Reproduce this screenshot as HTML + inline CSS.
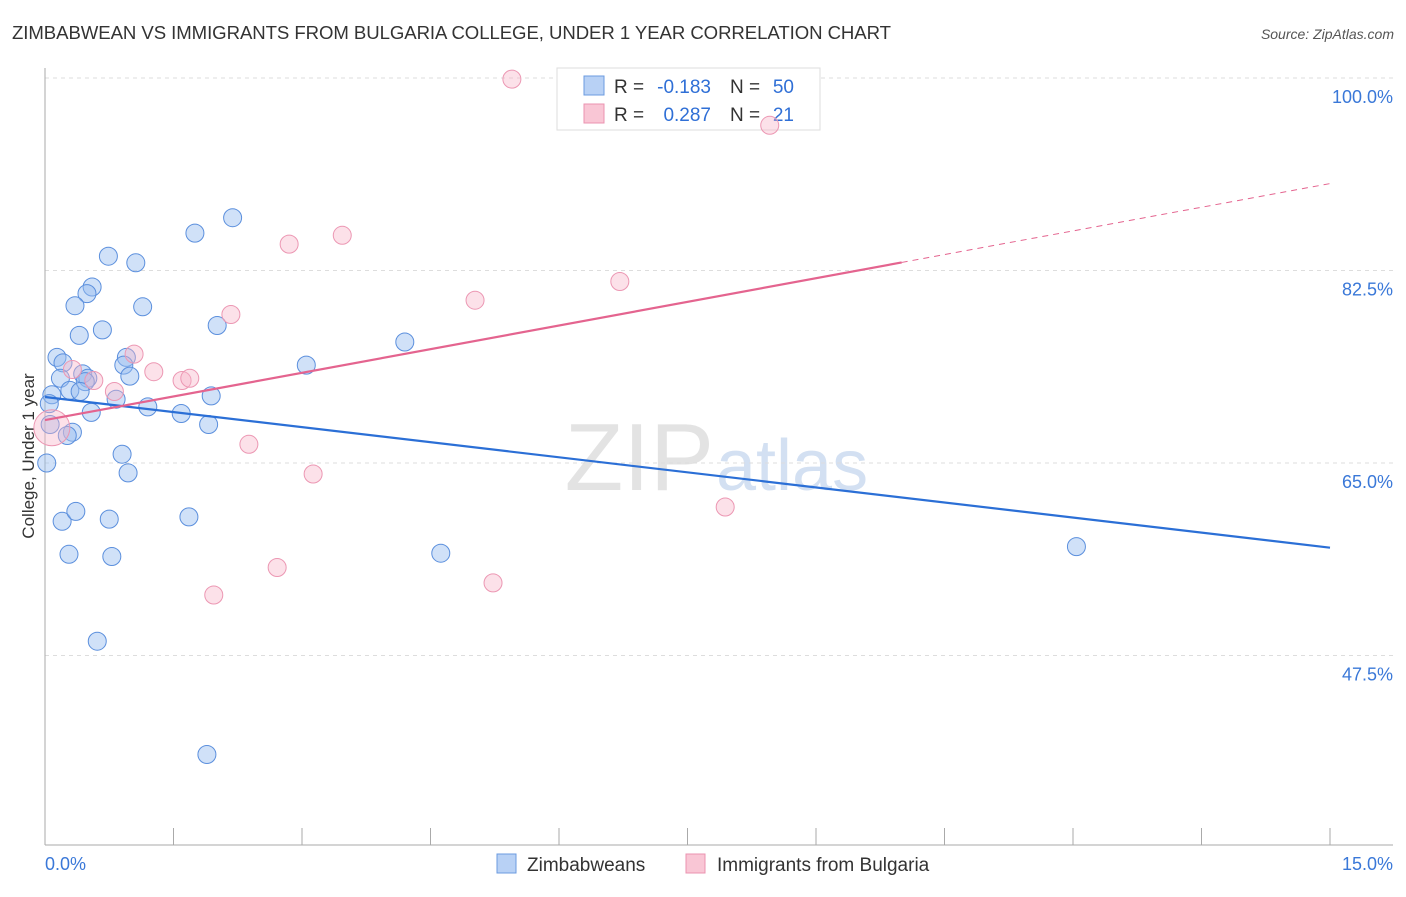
<!DOCTYPE html>
<html><head><meta charset="utf-8"><style>
body{margin:0;background:#fff;font-family:"Liberation Sans",sans-serif;}
svg text{font-family:"Liberation Sans",sans-serif;}
</style></head><body>
<svg id="chart" width="1406" height="892" viewBox="0 0 1406 892" xmlns="http://www.w3.org/2000/svg">
<text x="12" y="39" font-size="18.6" fill="#333" textLength="879">ZIMBABWEAN VS IMMIGRANTS FROM BULGARIA COLLEGE, UNDER 1 YEAR CORRELATION CHART</text>
<text x="1394" y="39" font-size="14" fill="#555" font-style="italic" text-anchor="end">Source: ZipAtlas.com</text>
<text x="714" y="490" font-size="96" fill="#ddd" text-anchor="end" font-family="Liberation Serif" opacity="0.8">ZIP</text>
<text x="716" y="490" font-size="72" fill="#c9d9ef" opacity="0.8">atlas</text>
<g id="grid"></g><g id="axes"></g>
<text transform="translate(34,456) rotate(-90)" font-size="17" fill="#333" text-anchor="middle">College, Under 1 year</text>
<g>
<rect x="557" y="68" width="263" height="62" fill="#fff" stroke="#ddd"/>
<rect x="584" y="76" width="20" height="19" fill="#b8d1f5" stroke="#6b9be0"/>
<rect x="584" y="104" width="20" height="19" fill="#f9c6d5" stroke="#eb93b0"/>
<text x="614" y="93" font-size="19" fill="#333">R =</text>
<text x="711" y="93" font-size="19" fill="#2f6fd6" text-anchor="end">-0.183</text>
<text x="730" y="93" font-size="19" fill="#333">N =</text>
<text x="794" y="93" font-size="19" fill="#2f6fd6" text-anchor="end">50</text>
<text x="614" y="121" font-size="19" fill="#333">R =</text>
<text x="711" y="121" font-size="19" fill="#2f6fd6" text-anchor="end">0.287</text>
<text x="730" y="121" font-size="19" fill="#333">N =</text>
<text x="794" y="121" font-size="19" fill="#2f6fd6" text-anchor="end">21</text>
</g>
<g id="marks"></g>
<g>
<rect x="497" y="854" width="19" height="19" fill="#b8d1f5" stroke="#6b9be0"/>
<text x="527" y="871" font-size="19" fill="#333">Zimbabweans</text>
<rect x="686" y="854" width="19" height="19" fill="#f9c6d5" stroke="#eb93b0"/>
<text x="717" y="871" font-size="19" fill="#333">Immigrants from Bulgaria</text>
</g>
</svg>
<script>
const blueX=[0.74,1.06,0.55,0.49,0.35,1.14,0.67,0.40,2.01,1.75,2.19,0.14,0.21,0.95,0.92,3.05,4.20,0.18,0.44,0.50,0.47,0.99,0.29,0.41,0.08,0.05,0.83,1.20,0.54,1.59,1.94,1.91,0.32,0.26,0.06,0.02,0.90,0.97,0.20,0.36,0.75,1.68,0.28,0.78,4.62,0.61,1.89,12.04];
const blueY=[83.8,83.2,81.0,80.4,79.3,79.2,77.1,76.6,77.5,85.9,87.3,74.6,74.1,74.6,73.9,73.9,76.0,72.7,73.1,72.7,72.4,72.9,71.6,71.5,71.2,70.4,70.8,70.1,69.6,69.5,71.1,68.5,67.8,67.5,68.5,65.0,65.8,64.1,59.7,60.6,59.9,60.1,56.7,56.5,56.8,48.8,38.5,57.4];
const pinkX=[5.45,8.46,2.85,3.47,5.02,6.71,2.17,1.04,1.27,1.60,1.69,0.57,0.81,0.32,2.38,3.13,7.94,2.71,5.23,1.97,0.08];
const pinkY=[99.9,95.7,84.9,85.7,79.8,81.5,78.5,74.9,73.3,72.5,72.7,72.5,71.5,73.5,66.7,64.0,61.0,55.5,54.1,53.0,68.2];
const blueTrend=[71.0,57.3];
const pinkTrend=[68.9,90.4];
const yTicks=[100,82.5,65,47.5];
const yTickLabels=["100.0%","82.5%","65.0%","47.5%"];
const xTickLabels=["0.0%","15.0%"];
const NS="http://www.w3.org/2000/svg";
const X0=45,X1=1330,YT=78,PY=11;
const xs=v=>X0+(v/15)*(X1-X0);
const ys=v=>YT+(100-v)*PY;
function mk(tag,attrs,parent){const e=document.createElementNS(NS,tag);for(const k in attrs)e.setAttribute(k,attrs[k]);document.getElementById(parent).appendChild(e);return e;}
yTicks.forEach((t,i)=>{
 const l=mk('line',{x1:X0,x2:1393,y1:ys(t),y2:ys(t),stroke:'#ddd','stroke-dasharray':'4,4'},'grid');
 
 
 const tx=mk('text',{x:1393,y:ys(t)+25,'font-size':18,fill:'#3a78d8','text-anchor':'end'},'grid');
 tx.textContent=yTickLabels[i];
 
 
});
const ax=mk('line',{x1:X0,x2:X0,y1:68,y2:845,stroke:'#aaa'},'axes');


const bx=mk('line',{x1:X0,x2:1393,y1:845,y2:845,stroke:'#aaa'},'axes');


for(let i=0;i<=10;i++){const v=i*1.5;const t=mk('line',{x1:xs(v),x2:xs(v),y1:828,y2:845,stroke:'#aaa'},'axes');
 
 }
[[0,0],[15,1]].forEach(([v,i])=>{const t=mk('text',{x:xs(v)+(i?63:0),y:870,'font-size':18,fill:'#3a78d8','text-anchor':i?'end':'start'},'axes');t.textContent=xTickLabels[i];
 
 });
blueX.forEach((x,i)=>{const c=mk('circle',{cx:xs(x),cy:ys(blueY[i]),r:9,fill:'rgba(150,188,240,0.45)',stroke:'#5b8fdd','stroke-width':1},'marks');
 
 });
pinkX.forEach((x,i)=>{const c=mk('circle',{cx:xs(x),cy:ys(pinkY[i]),r:i==20?18:9,fill:'rgba(248,180,200,0.4)',stroke:'#ec97b3','stroke-width':1},'marks');
 
 });
const bl=mk('line',{x1:xs(0),y1:ys(blueTrend[0]),x2:xs(15),y2:ys(blueTrend[1]),stroke:'#2b6fd6','stroke-width':2.2},'marks');


const pAt=v=>pinkTrend[0]+(pinkTrend[1]-pinkTrend[0])*v/15;
const pl=mk('line',{x1:xs(0),y1:ys(pAt(0)),x2:xs(10),y2:ys(pAt(10)),stroke:'#e4648f','stroke-width':2.2},'marks');


const pd=mk('line',{x1:xs(10),y1:ys(pAt(10)),x2:xs(15),y2:ys(pAt(15)),stroke:'#e4648f','stroke-width':1,'stroke-dasharray':'6,5'},'marks');


</script>
</body></html>
